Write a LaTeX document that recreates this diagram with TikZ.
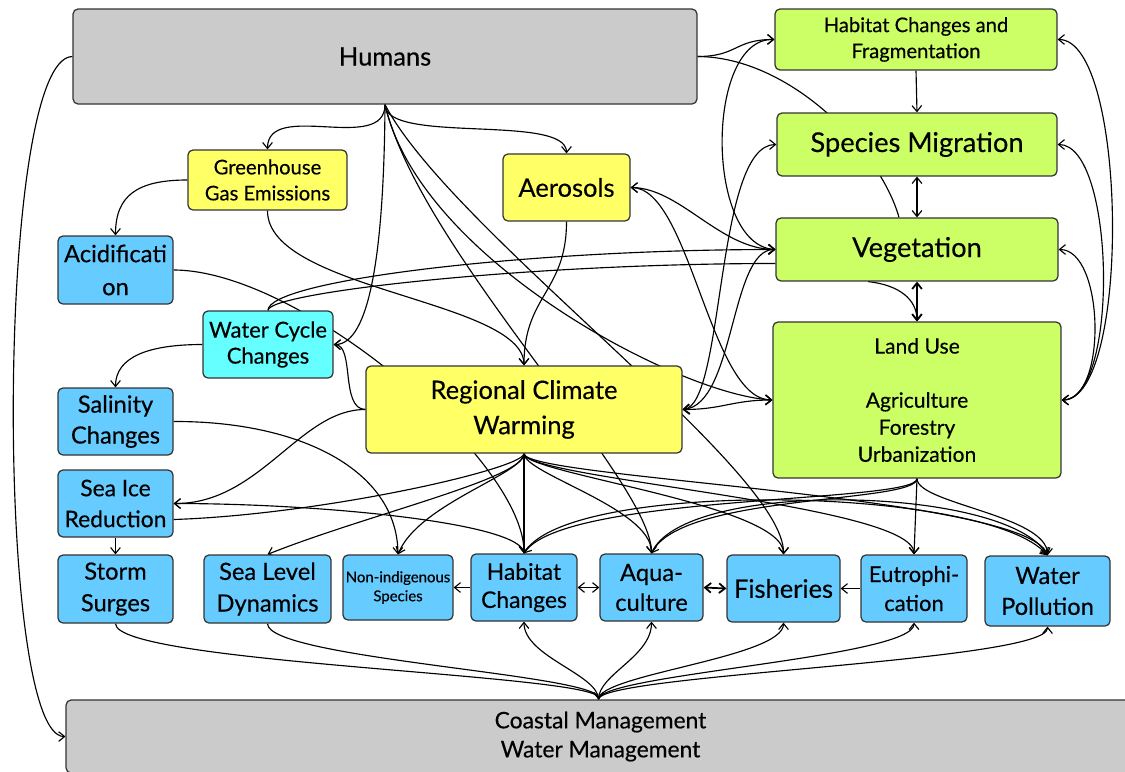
\documentclass[tikz,border=0pt]{standalone}
\usepackage{fontspec}
\setmainfont{Lato}[FakeBold=0.35]
\usetikzlibrary{arrows.meta,calc}
\pgfdeclarelayer{back}
\pgfdeclarelayer{edges}
\pgfsetlayers{back,edges,main}
\definecolor{boxgray}{HTML}{CBCBCB}
\definecolor{boxgreen}{HTML}{CCFF66}
\definecolor{boxyellow}{HTML}{FFFF66}
\definecolor{boxblue}{HTML}{66CCFF}
\definecolor{boxcyan}{HTML}{66FFFF}
\definecolor{boxline}{HTML}{333333}
\tikzset{
  box/.style={draw=boxline, line width=0.7pt, rounded corners=2.8pt, inner sep=0pt, align=center, text=black},
  grayb/.style={box, fill=boxgray},
  greenb/.style={box, fill=boxgreen},
  yellowb/.style={box, fill=boxyellow},
  blueb/.style={box, fill=boxblue},
  cyanb/.style={box, fill=boxcyan},
  fs/.style 2 args={font=\fontsize{#1}{#2}\selectfont},
  link/.style={draw=black, line width=0.65pt},
  arr/.style={link, -{Straight Barb[length=3.4pt,width=5.5pt]}},
  barr/.style={link, {Straight Barb[length=3.4pt,width=5.5pt]}-{Straight Barb[length=3.4pt,width=5.5pt]}},
}
\begin{document}
\begin{tikzpicture}[x=0.02cm, y=-0.02cm]
\useasboundingbox (0,0) rectangle (1125,771);
\begin{pgfonlayer}{back}
  \fill[white] (0,0) rectangle (1125,771);
\end{pgfonlayer}

% ---- top level
\node[grayb, minimum width=12.48cm, minimum height=1.90cm, fs={14.5}{17}] (hum) at (385,56.5) {Humans};
\node[grayb, minimum width=21.38cm, minimum height=1.46cm, fs={13}{16.5}] (cm) at (600.5,736.5) {Coastal Management\\Water Management};

% ---- land system (right column)
\node[greenb, minimum width=5.64cm, minimum height=1.22cm, fs={11.5}{14.8}] (hfrag) at (916,39.5) {Habitat Changes and\\Fragmentation};
\node[greenb, minimum width=5.60cm, minimum height=1.26cm, fs={15.5}{18}] (smig) at (917,144.5) {Species Migration};
\node[greenb, minimum width=5.64cm, minimum height=1.26cm, fs={15.5}{18}] (veg) at (917,249.5) {Vegetation};
\node[greenb, minimum width=5.76cm, minimum height=3.12cm, fs={12}{15.4}] (land) at (917,400) {Land Use\\[15.4pt]Agriculture\\Forestry\\Urbanization};

% ---- climate drivers
\node[yellowb, minimum width=3.18cm, minimum height=1.20cm, fs={11.5}{14.8}] (ghg) at (267.5,180) {Greenhouse\\Gas Emissions};
\node[yellowb, minimum width=2.54cm, minimum height=1.34cm, fs={14.5}{17}] (aer) at (566.5,187.5) {Aerosols};
\node[yellowb, minimum width=6.32cm, minimum height=1.74cm, fs={14.5}{20}] (rcw) at (524,409.5) {Regional Climate\\Warming};
\node[cyanb, minimum width=2.60cm, minimum height=1.34cm, fs={12.5}{14.8}] (wcc) at (268,344.5) {Water Cycle\\Changes};

% ---- marine effects (left column)
\node[blueb, minimum width=2.30cm, minimum height=1.36cm, fs={13.5}{18.8}] (acid) at (115.5,270) {Acidificati\\on};
\node[blueb, minimum width=2.30cm, minimum height=1.34cm, fs={13.5}{17.6}] (sal) at (115.5,421.5) {Salinity\\Changes};
\node[blueb, minimum width=2.30cm, minimum height=1.34cm, fs={13}{17.6}] (ice) at (115.5,503.5) {Sea Ice\\Reduction};

% ---- bottom row
\node[blueb, minimum width=2.30cm, minimum height=1.36cm, fs={13.5}{18}] (storm) at (115.5,589) {Storm\\Surges};
\node[blueb, minimum width=2.54cm, minimum height=1.36cm, fs={13.5}{18}] (slev) at (267.5,589) {Sea Level\\Dynamics};
\node[blueb, minimum width=2.20cm, minimum height=1.30cm, fs={8.5}{10.8}] (nonind) at (398,587.5) {Non-indigenous\\Species};
\node[blueb, minimum width=2.12cm, minimum height=1.34cm, fs={13}{16}] (habc) at (524,587.5) {Habitat\\Changes};
\node[blueb, minimum width=2.06cm, minimum height=1.34cm, fs={13.5}{17}] (aqua) at (651.5,587.5) {Aqua-\\culture};
\node[blueb, minimum width=2.26cm, minimum height=1.34cm, fs={14.5}{17}] (fish) at (783.5,588.5) {Fisheries};
\node[blueb, minimum width=2.12cm, minimum height=1.34cm, fs={12.5}{16.5}] (eut) at (914,588.5) {Eutrophi-\\cation};
\node[blueb, minimum width=2.50cm, minimum height=1.40cm, fs={13.5}{17.6}] (wpol) at (1047.5,591) {Water\\Pollution};

\coordinate (cmtop) at ($(cm.north)+(-2,0)$);

\begin{pgfonlayer}{edges}
% from Humans
\draw[arr] (hum.west) .. controls (-5,57) and (-5,737) .. (cm.west);
\draw[arr] (hum.south) .. controls +(0,50) and +(0,-50) .. (ghg.north);
\draw[arr] (hum.south) .. controls +(0,40) and +(0,-40) .. (aer.north);
\draw[arr] (hum.south) .. controls (384,250) and (370,345) .. (wcc.east);
\draw[arr] (hum.south) .. controls (420,250) and (651,480) .. (aqua.north);
\draw[arr] (hum.south) .. controls (450,230) and (785,470) .. (fish.north);
\draw[arr] (hum.south) .. controls (420,260) and (680,395) .. (land.west);
\draw[arr] (hum.east) .. controls +(40,0) and +(-40,0) .. (hfrag.west);
\draw[link] (hum.east) .. controls (790,57) and (880,150) .. ($(veg.north)+(-18,0)$);
\draw[arr] ($(veg.south)+(-49,0)$) .. controls (900,285) and (917,300) .. (land.north);

% land system
\draw[arr] (hfrag.south) -- (smig.north);
\draw[barr] (smig.south) -- (veg.north);
\draw[barr, line width=1pt] (veg.south) -- (land.north);
\draw[barr] (land.east) .. controls +(70,0) and +(70,0) .. (hfrag.east);
\draw[barr] (land.east) .. controls +(58,0) and +(58,0) .. (smig.east);
\draw[barr] (land.east) .. controls +(46,0) and +(46,0) .. (veg.east);
\draw[barr] (veg.west) .. controls (705,245) and (705,38) .. (hfrag.west);
\draw[barr] (rcw.east) .. controls (725,405) and (715,145) .. (smig.west);
\draw[barr] (rcw.east) .. controls (735,405) and (730,249) .. (veg.west);
\draw[barr] (aer.east) .. controls (680,188) and (720,249) .. (veg.west);
\draw[barr] (aer.east) .. controls (690,188) and (710,400) .. (land.west);
\draw[barr] (rcw.east) .. controls +(40,0) and +(-40,0) .. (land.west);

% water cycle and climate
\draw[arr] (wcc.north) .. controls +(0,-30) and +(-250,0) .. (veg.west);
\draw[link] (wcc.north) .. controls +(0,-18) and +(-250,0) .. ($(veg.west)+(0,14)$);
\draw[arr] (rcw.west) .. controls (340,409) and (355,345) .. (wcc.east);
\draw[arr] (rcw.west) .. controls (300,409) and (260,504) .. (ice.east);
\draw[arr] (ghg.west) .. controls +(-50,0) and +(0,-40) .. (acid.north);
\draw[arr] (wcc.west) .. controls +(-55,0) and +(0,-30) .. (sal.north);
\draw[arr] (ice.south) -- (storm.north);
\draw[arr] (acid.east) .. controls (300,270) and (524,460) .. (habc.north);
\draw[arr] (ghg.south) .. controls (267,290) and (523,300) .. (rcw.north);
\draw[arr] (aer.south) .. controls +(0,70) and +(0,-70) .. (rcw.north);
\draw[arr] (sal.east) .. controls (300,421) and (397,470) .. (nonind.north);

% regional warming effects
\draw[arr] (rcw.south) -- (habc.north);
\draw[arr] (rcw.south) .. controls +(0,25) and +(100,-40) .. (slev.north);
\draw[arr] (rcw.south) .. controls +(0,20) and +(20,-50) .. (nonind.north);
\draw[link] (rcw.south) .. controls +(0,15) and +(150,-5) .. ($(ice.east)+(0,16)$);
\draw[arr] (habc.north) .. controls +(0,-30) and +(150,0) .. (ice.east);
\draw[arr] (rcw.south) .. controls +(0,20) and +(0,-45) .. (aqua.north);
\draw[arr] (rcw.south) .. controls +(0,20) and +(0,-50) .. (fish.north);
\draw[arr] (rcw.south) .. controls +(0,25) and +(0,-50) .. (eut.north);
\draw[arr] (rcw.south) .. controls +(0,25) and +(-20,-60) .. (wpol.north);

% land use effects
\draw[arr] (land.south) -- (eut.north);
\draw[arr] (land.south) .. controls +(0,25) and +(0,-40) .. (wpol.north);
\draw[arr] (land.south) .. controls +(0,25) and +(30,-60) .. (aqua.north);
\draw[arr] (land.south) .. controls +(0,25) and +(40,-60) .. (habc.north);
\draw[arr] (aqua.north) .. controls +(30,-75) and +(-40,-70) .. (wpol.north);
\draw[arr] (habc.north) .. controls +(40,-75) and +(-60,-70) .. (wpol.north);

% bottom row
\draw[arr] (habc.west) -- (nonind.east);
\draw[barr] (habc.east) -- (aqua.west);
\draw[barr, line width=1pt] (aqua.east) -- (fish.west);
\draw[arr] (eut.west) -- (fish.east);

% management
\draw[arr] (storm.south) .. controls +(0,40) and +(0,-25) .. (cmtop);
\draw[arr] (slev.south) .. controls +(0,35) and +(0,-25) .. (cmtop);
\draw[arr] (cmtop) .. controls +(0,-25) and +(0,35) .. (habc.south);
\draw[arr] (cmtop) .. controls +(0,-25) and +(0,35) .. (aqua.south);
\draw[arr] (cmtop) .. controls +(0,-25) and +(0,35) .. (fish.south);
\draw[arr] (cmtop) .. controls +(0,-25) and +(0,35) .. (eut.south);
\draw[arr] (cmtop) .. controls +(0,-25) and +(0,35) .. (wpol.south);
\end{pgfonlayer}
\end{tikzpicture}
\end{document}
